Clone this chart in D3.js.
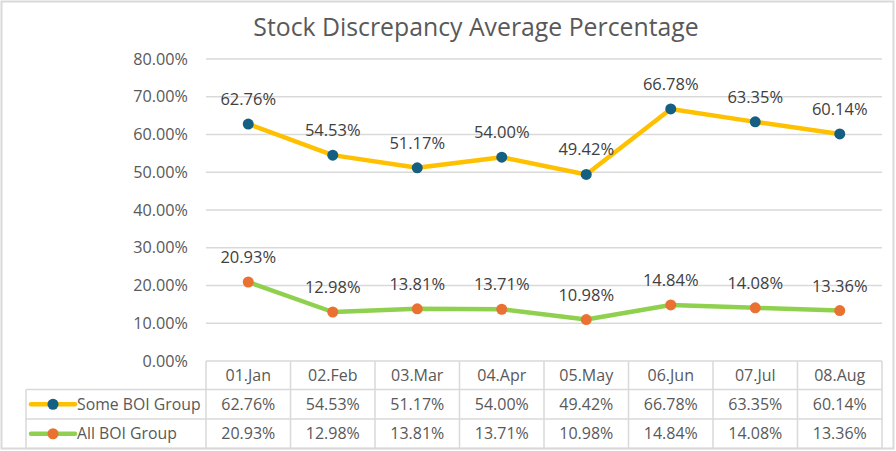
<!DOCTYPE html>
<html>
<head>
<meta charset="utf-8">
<script src="https://cdn.jsdelivr.net/npm/d3@7"></script>
<style>
body { margin: 0; background: #fff; }
text { font-family: "Open Sans", "Noto Sans", sans-serif; }
</style>
</head>
<body>
<svg id="s" width="896" height="451"></svg>
<script>
var months = ["01.Jan", "02.Feb", "03.Mar", "04.Apr", "05.May", "06.Jun", "07.Jul", "08.Aug"];
var someBOI = [62.76, 54.53, 51.17, 54.00, 49.42, 66.78, 63.35, 60.14];
var allBOI = [20.93, 12.98, 13.81, 13.71, 10.98, 14.84, 14.08, 13.36];
var seriesNames = ["Some BOI Group", "All BOI Group"];
var yTicks = [0, 10, 20, 30, 40, 50, 60, 70, 80];

var svg = d3.select("#s");

svg.append("rect").attr("x", 1.5).attr("y", 1.5).attr("width", 892).attr("height", 447)
    .attr("fill", "#fff").attr("stroke", "#d9d9d9").attr("stroke-width", 2);

svg.append("text").attr("x", 476).attr("y", 36).attr("text-anchor", "middle")
    .attr("font-size", 24.8).attr("fill", "#595959").text("Stock Discrepancy Average Percentage");

var x = d3.scaleBand().domain(months).range([206, 882]);
var y = d3.scaleLinear().domain([0, 80]).range([361, 59]);

// gridlines
svg.append("g").selectAll("line").data(yTicks.slice(1)).enter().append("line")
    .attr("x1", 206).attr("x2", 882)
    .attr("y1", function(d){ return y(d); }).attr("y2", function(d){ return y(d); })
    .attr("stroke", "#d9d9d9").attr("stroke-width", 1.3);

// y axis labels
var yAxis = d3.axisLeft(y).tickValues(yTicks).tickSize(0).tickPadding(18)
    .tickFormat(function(d){ return d.toFixed(2) + "%"; });
var ya = svg.append("g").attr("transform", "translate(206,0)").call(yAxis);
ya.select(".domain").remove();
ya.selectAll("text").attr("font-size", 16.2).attr("fill", "#595959")
    .attr("font-family", "'Open Sans', sans-serif");

// data table
var rowTop = [361, 389.5, 419, 448.5];
var tbl = svg.append("g").attr("stroke", "#d9d9d9").attr("stroke-width", 1.5);
tbl.append("line").attr("x1", 206).attr("x2", 882).attr("y1", rowTop[0]).attr("y2", rowTop[0]);
[1, 2, 3].forEach(function(i){
    tbl.append("line").attr("x1", 26).attr("x2", 882).attr("y1", rowTop[i]).attr("y2", rowTop[i]);
});
tbl.append("line").attr("x1", 26).attr("x2", 26).attr("y1", rowTop[1]).attr("y2", rowTop[3]);
months.forEach(function(m, i){
    tbl.append("line").attr("x1", x(m)).attr("x2", x(m)).attr("y1", rowTop[0]).attr("y2", rowTop[3]);
});
tbl.append("line").attr("x1", 882).attr("x2", 882).attr("y1", rowTop[0]).attr("y2", rowTop[3]);

var cellText = function(txt, cx, row) {
    svg.append("text").attr("x", cx).attr("y", (rowTop[row] + rowTop[row + 1]) / 2 + 5.5)
        .attr("text-anchor", "middle").attr("font-size", 16).attr("fill", "#595959").text(txt);
};
months.forEach(function(m, i){
    var cx = x(m) + x.bandwidth() / 2;
    cellText(m, cx, 0);
    cellText(someBOI[i].toFixed(2) + "%", cx, 1);
    cellText(allBOI[i].toFixed(2) + "%", cx, 2);
});

var series = [
    {name: seriesNames[0], values: someBOI, line: "#ffc000", marker: "#156082"},
    {name: seriesNames[1], values: allBOI, line: "#8fd14f", marker: "#e97132"}
];

// legend keys in table
series.forEach(function(s, i){
    var cy = (rowTop[i + 1] + rowTop[i + 2]) / 2;
    svg.append("line").attr("x1", 31).attr("x2", 75).attr("y1", cy).attr("y2", cy)
        .attr("stroke", s.line).attr("stroke-width", 4.5).attr("stroke-linecap", "round");
    svg.append("circle").attr("cx", 53).attr("cy", cy).attr("r", 5.5).attr("fill", s.marker);
    svg.append("text").attr("x", 77).attr("y", cy + 5.5).attr("font-size", 15.8)
        .attr("fill", "#595959").text(s.name);
});

var line = d3.line()
    .x(function(d, i){ return x(months[i]) + x.bandwidth() / 2; })
    .y(function(d){ return y(d); });

series.forEach(function(s){
    svg.append("path").datum(s.values).attr("d", line).attr("fill", "none")
        .attr("stroke", s.line).attr("stroke-width", 4.5).attr("stroke-linejoin", "round")
        .attr("stroke-linecap", "round");
    svg.append("g").selectAll("circle").data(s.values).enter().append("circle")
        .attr("cx", function(d, i){ return x(months[i]) + x.bandwidth() / 2; })
        .attr("cy", function(d){ return y(d); })
        .attr("r", 5.5).attr("fill", s.marker);
    svg.append("g").selectAll("text").data(s.values).enter().append("text")
        .attr("x", function(d, i){ return x(months[i]) + x.bandwidth() / 2; })
        .attr("y", function(d){ return y(d) - 19; })
        .attr("text-anchor", "middle").attr("font-size", 16.5).attr("fill", "#404040")
        .text(function(d){ return d.toFixed(2) + "%"; });
});
</script>
</body>
</html>
